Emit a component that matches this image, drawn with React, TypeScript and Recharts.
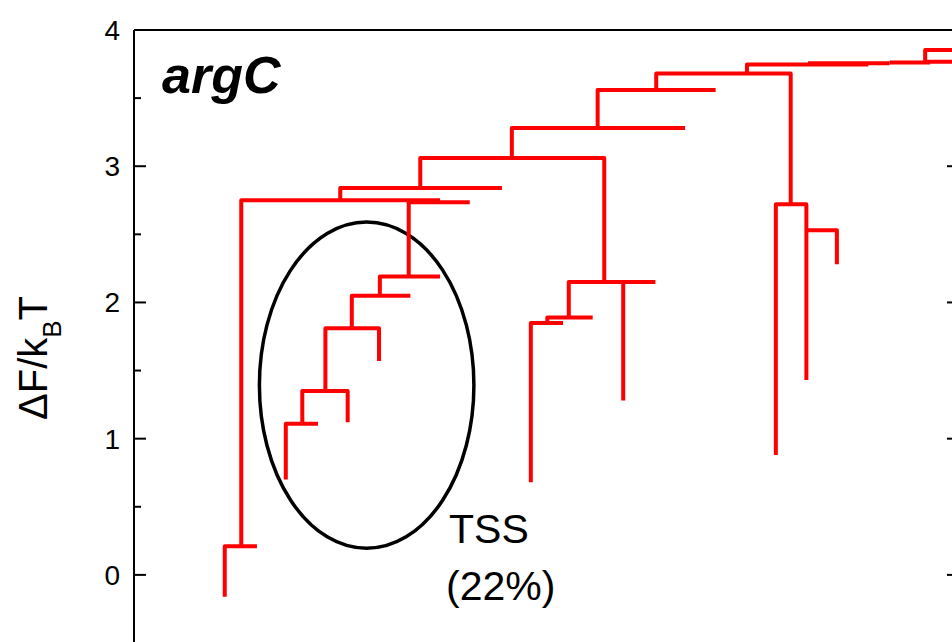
import {
  LineChart,
  Line,
  XAxis,
  YAxis,
  ReferenceArea,
  Customized,
} from "recharts";

// disconnectivity tree of argC, each array is one drawn branch (x = arbitrary position, y = ΔF/kBT)
const rootStub = [{ x: 11.0, y: -0.16 }, { x: 11.0, y: 0.21 }, { x: 14.9, y: 0.21 }];
const leftTrunk = [{ x: 13.0, y: 0.21 }, { x: 13.0, y: 2.75 }, { x: 37.1, y: 2.75 }];
const tssTop = [{ x: 40.7, y: 2.735 }, { x: 33.3, y: 2.735 }, { x: 33.3, y: 2.19 }];
const tss1 = [{ x: 37.1, y: 2.19 }, { x: 29.8, y: 2.19 }, { x: 29.8, y: 2.05 }];
const tss2 = [{ x: 33.5, y: 2.05 }, { x: 26.4, y: 2.05 }, { x: 26.4, y: 1.81 }];
const tss3 = [{ x: 29.7, y: 1.57 }, { x: 29.7, y: 1.81 }, { x: 23.2, y: 1.81 }, { x: 23.2, y: 1.35 }];
const tss4 = [{ x: 25.9, y: 1.12 }, { x: 25.9, y: 1.35 }, { x: 20.4, y: 1.35 }, { x: 20.4, y: 1.11 }];
const tss5 = [{ x: 22.3, y: 1.11 }, { x: 18.4, y: 1.11 }, { x: 18.4, y: 0.7 }];

const link284 = [{ x: 25.0, y: 2.75 }, { x: 25.0, y: 2.84 }, { x: 44.6, y: 2.84 }];
const link306 = [{ x: 34.7, y: 2.84 }, { x: 34.7, y: 3.06 }, { x: 57.0, y: 3.06 }, { x: 57.0, y: 2.15 }];
const link328 = [{ x: 45.8, y: 3.06 }, { x: 45.8, y: 3.28 }, { x: 66.8, y: 3.28 }];
const link356 = [{ x: 56.2, y: 3.28 }, { x: 56.2, y: 3.56 }, { x: 70.5, y: 3.56 }];
const link368 = [{ x: 63.3, y: 3.56 }, { x: 63.3, y: 3.68 }, { x: 79.6, y: 3.68 }, { x: 79.6, y: 2.72 }];
const top1 = [{ x: 74.3, y: 3.68 }, { x: 74.3, y: 3.747 }, { x: 89.0, y: 3.747 }];
const top2 = [{ x: 81.7, y: 3.755 }, { x: 91.6, y: 3.755 }];
const top3 = [{ x: 91.6, y: 3.762 }, { x: 96.5, y: 3.762 }];
const top4 = [{ x: 95.9, y: 3.762 }, { x: 95.9, y: 3.853 }, { x: 100, y: 3.853 }];
const top5 = [{ x: 95.9, y: 3.767 }, { x: 100, y: 3.767 }];

const mid1 = [{ x: 52.7, y: 1.89 }, { x: 52.7, y: 2.15 }, { x: 63.2, y: 2.15 }];
const mid2 = [{ x: 59.3, y: 2.15 }, { x: 59.3, y: 1.28 }];
const mid3 = [{ x: 55.6, y: 1.89 }, { x: 50.1, y: 1.89 }, { x: 50.1, y: 1.85 }];
const mid4 = [{ x: 52.0, y: 1.85 }, { x: 48.1, y: 1.85 }, { x: 48.1, y: 0.68 }];

const right1 = [{ x: 77.8, y: 0.88 }, { x: 77.8, y: 2.72 }, { x: 81.5, y: 2.72 }, { x: 81.5, y: 1.43 }];
const right2 = [{ x: 81.5, y: 2.53 }, { x: 85.2, y: 2.53 }, { x: 85.2, y: 2.28 }];

const branches = [
  rootStub, leftTrunk, tssTop, tss1, tss2, tss3, tss4, tss5,
  link284, link306, link328, link356, link368, top1, top2, top3, top4, top5,
  mid1, mid2, mid3, mid4, right1, right2,
];

const yTicks = [-0.5, 0, 0.5, 1, 1.5, 2, 2.5, 3, 3.5, 4];

// TSS basin outline (x1, x2, y1, y2)
const tssBox = { x1: 15.2, x2: 41.2, y1: 0.195, y2: 2.59 };

const FONT = "'Liberation Sans', Arial, sans-serif";

function LeftTick(props: any) {
  const { x, y, payload } = props;
  const ax = x + 14;
  const major = Number.isInteger(payload.value);
  return (
    <g>
      <line x1={ax} x2={ax + (major ? 12 : 7)} y1={y} y2={y} stroke="#000" strokeWidth={2} />
      {major && (
        <text x={x} y={y} dy={10} textAnchor="end" fontSize={28} fontFamily={FONT} fill="#000">
          {payload.value}
        </text>
      )}
    </g>
  );
}

function RightTick(props: any) {
  const { x, y, payload } = props;
  const ax = x - 14;
  const major = Number.isInteger(payload.value);
  return <line x1={ax} x2={ax - (major ? 12 : 7)} y1={y} y2={y} stroke="#000" strokeWidth={2} />;
}

function Annotations() {
  return (
    <g fontFamily={FONT} fill="#000">
      <text x={162} y={93} fontSize={52} fontWeight="bold" fontStyle="italic">argC</text>
      <text x={449} y={543} fontSize={41}>TSS</text>
      <text x={446} y={600} fontSize={41}>(22%)</text>
      <text transform="translate(47,358) rotate(-90)" textAnchor="middle" fontSize={40}>
        ΔF/k<tspan fontSize={26} dy={14}>B</tspan>
        <tspan dy={-14} fontSize={40}>T</tspan>
      </text>
    </g>
  );
}

export default function App() {
  return (
    <div style={{ position: "fixed", left: 0, top: 0, width: 952, height: 642, overflow: "hidden", background: "#fff" }}>
      <LineChart width={1000} height={700} margin={{ top: 29, right: 0, bottom: 57, left: 0 }}>
        <XAxis
          type="number"
          dataKey="x"
          orientation="top"
          domain={[0, 100]}
          allowDataOverflow
          height={1}
          tick={false}
          tickLine={false}
          axisLine={{ stroke: "#000", strokeWidth: 2 }}
        />
        <YAxis
          type="number"
          dataKey="y"
          domain={[-0.5, 4]}
          ticks={yTicks}
          interval={0}
          width={134}
          tickSize={11}
          tickMargin={3}
          tickLine={false}
          tick={<LeftTick />}
          axisLine={{ stroke: "#000", strokeWidth: 2 }}
          allowDataOverflow
        />
        <YAxis
          yAxisId="r"
          orientation="right"
          type="number"
          domain={[-0.5, 4]}
          ticks={yTicks}
          interval={0}
          width={41}
          tickSize={11}
          tickMargin={3}
          tickLine={false}
          tick={<RightTick />}
          axisLine={{ stroke: "#000", strokeWidth: 2 }}
          allowDataOverflow
        />
        <ReferenceArea
          x1={tssBox.x1}
          x2={tssBox.x2}
          y1={tssBox.y1}
          y2={tssBox.y2}
          shape={(p: any) => (
            <ellipse
              cx={p.x + p.width / 2}
              cy={p.y + p.height / 2}
              rx={Math.abs(p.width) / 2}
              ry={Math.abs(p.height) / 2}
              fill="none"
              stroke="#000"
              strokeWidth={3.5}
            />
          )}
        />
        {branches.map((b, i) => (
          <Line
            key={i}
            data={b}
            dataKey="y"
            type="linear"
            stroke="#ff0000"
            strokeWidth={4}
            strokeLinejoin="round"
            dot={false}
            activeDot={false}
            isAnimationActive={false}
          />
        ))}
        <Customized component={Annotations} />
      </LineChart>
    </div>
  );
}
